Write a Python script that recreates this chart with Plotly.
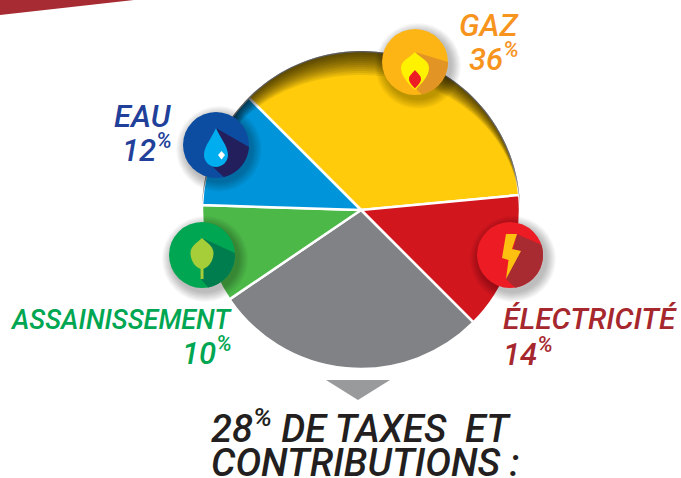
import numpy as np
import plotly.graph_objects as go

W, H = 681, 478
categories = ["Gaz", "Électricité", "Taxes et contributions", "Assainissement", "Eau"]
values = [36, 14, 28, 10, 12]
slice_colors = ["#FFCB0B", "#D1161E", "#808285", "#4CB848", "#0095DA"]
CX, CY, R = 361, 210, 159

FONT = "Roboto"


def poly(pts, close=True):
    return "M" + " L".join(f"{x:.2f},{y:.2f}" for x, y in pts) + (" Z" if close else "")


def circle(cx, cy, r, color, opacity=1):
    return dict(type="circle", xref="x", yref="y", x0=cx - r, x1=cx + r, y0=cy - r, y1=cy + r,
                fillcolor=color, opacity=opacity, line_width=0, layer="above")


def path(d, color, opacity=1):
    return dict(type="path", xref="x", yref="y", path=d, fillcolor=color, opacity=opacity,
                line_width=0, layer="above")


def rel(cx, cy, s):
    out = []
    for cmd in s:
        c, nums = cmd[0], cmd[1:]
        pts = [f"{cx + nums[i]:.2f},{cy + nums[i + 1]:.2f}" for i in range(0, len(nums), 2)]
        out.append(c + " ".join(pts))
    return " ".join(out) + " Z"


def long_shadow(cx, cy, r, start, end, tip, tail, color):
    a0 = np.arctan2(start[1], start[0])
    a1 = np.arctan2(end[1], end[0])
    arc = [(cx + r * np.cos(a), cy + r * np.sin(a)) for a in np.linspace(a0, a1, 30)]
    pts = [(cx + tip[0], cy + tip[1])] + arc + [(cx + tail[0], cy + tail[1])]
    return path(poly(pts), color)


shapes = []
# corner wedge
shapes.append(path("M0,0 L134,0 L0,15 Z", "#A62B32"))
# inner shadow of the pie, thickest at the top and fading out towards the sides
t = np.linspace(np.pi, 2 * np.pi, 80)
for T in np.arange(2.0, 26.0, 2.0):
    f = np.clip(-np.sin(t), 0, 1) ** 1.7
    outer_arc = list(zip(CX + R * np.cos(t), CY + R * np.sin(t)))
    inner_arc = list(zip(CX + (R - T * f) * np.cos(t), CY + (R - T * f) * np.sin(t)))
    shapes.append(path(poly(outer_arc + inner_arc[::-1]), "#000000", 0.08))
# triangle
shapes.append(path("M326,380 L390,380 L358,400 Z", "#999A9C"))

icons = [
    (415, 62, "#FDB515", "#E29524", (32, 0), (7, 33), (0, -10), (2, 28)),
    (216, 145, "#0D4DA1", "#231F5C", (33, 2), (8, 34), (0, -17), (-3, 22)),
    (202, 255, "#00A651", "#007D4F", (33, -2), (6, 32), (0, -17), (-2, 23)),
    (510, 255, "#ED1C24", "#A92B32", (31, -10), (5, 32), (7, -21), (-4, 24)),
]
IR = 33
for cx, cy, col, dark, e0, e1, tip, tail in icons:
    for k in range(10, 0, -1):
        shapes.append(circle(cx + 3, cy + 4, IR + k * 1.0, "#000000", 0.028))
    shapes.append(circle(cx, cy, IR, col))
    shapes.append(long_shadow(cx, cy, IR, e0, e1, tip, tail, dark))

# flame
cx, cy = 415, 62
shapes.append(path(rel(cx, cy, [("M", 0, -10), ("C", -4, -5, -14, -2, -14, 6), ("C", -14, 15, -5, 23, 0, 28),
                                ("C", 5, 23, 14, 15, 14, 6), ("C", 14, -2, 4, -5, 0, -10)]), "#FFF200"))
shapes.append(path(rel(cx, cy, [("M", 0, 8), ("C", -2, 11, -6, 13, -6, 17), ("C", -6, 21, -2, 24, 0, 26.5),
                                ("C", 2, 24, 6, 21, 6, 17), ("C", 6, 13, 2, 11, 0, 8)]), "#ED1C24"))
# drop
cx, cy = 216, 145
shapes.append(path(rel(cx, cy, [("M", 0, -17), ("C", -3, -9, -12, 1, -12, 10), ("C", -12, 17, -6, 22, 0, 22),
                                ("C", 6, 22, 12, 17, 12, 10), ("C", 12, 1, 3, -9, 0, -17)]), "#00AEEF"))
shapes.append(path(rel(cx, cy, [("M", 5.5, 6), ("L", 9, 10), ("L", 5.5, 14.5), ("L", 2, 10)]), "#FFFFFF"))
# leaf
cx, cy = 202, 255
shapes.append(path(rel(cx, cy, [("M", -1.5, 12), ("L", 1.5, 12), ("L", 1.5, 24), ("L", -1.5, 24)]), "#A6CE39"))
shapes.append(path(rel(cx, cy, [("M", 0, -17), ("C", -5, -12, -11.5, -9, -11.5, -2), ("C", -11.5, 7, -5, 14, 0, 14),
                                ("C", 5, 14, 11.5, 7, 11.5, -2), ("C", 11.5, -9, 5, -12, 0, -17)]), "#A6CE39"))
# bolt
cx, cy = 510, 255
shapes.append(path(rel(cx, cy, [("M", -4, -21), ("L", 7, -21), ("L", 2, -6), ("L", 11, -4), ("L", -4, 24),
                                ("L", -1.5, 5), ("L", -8, 3)]), "#FDC010"))


def label(x, y, text, color, anchor, size):
    return dict(x=x, y=y, xref="x", yref="y", text=text, showarrow=False, xanchor=anchor, yanchor="middle",
                font=dict(family=FONT, size=size, color=color, style="italic", weight=500), align=anchor)


annotations = [
    label(521, 25, "GAZ", "#F7941E", "right", 31),
    label(521, 57, "36<sup>%</sup>", "#F7941E", "right", 31),
    label(174, 116, "EAU", "#21409A", "right", 31),
    label(174, 148, "12<sup>%</sup>", "#21409A", "right", 31),
    label(234, 320, "ASSAINISSEMENT", "#00A651", "right", 27),
    label(234, 351, "10<sup>%</sup>", "#00A651", "right", 31),
    label(501, 318, "ÉLECTRICITÉ", "#A6272D", "left", 30),
    label(501, 352, "14<sup>%</sup>", "#A6272D", "left", 31),
    label(361, 426, "28<sup>%</sup> DE TAXES  ET", "#231F20", "center", 38),
    label(365, 462, "CONTRIBUTIONS :", "#231F20", "center", 38.5),
]

fig = go.Figure()
fig.add_trace(go.Pie(
    labels=categories, values=values, sort=False, direction="clockwise", rotation=315,
    marker=dict(colors=slice_colors, line=dict(color="#FFFFFF", width=2.5)),
    textinfo="none", hoverinfo="label+percent", showlegend=False,
    domain=dict(x=[(CX - R) / W, (CX + R) / W], y=[1 - (CY + R) / H, 1 - (CY - R) / H]),
))
fig.update_layout(
    width=W, height=H, margin=dict(l=0, r=0, t=0, b=0), autosize=False,
    paper_bgcolor="#FFFFFF", plot_bgcolor="#FFFFFF", showlegend=False,
    xaxis=dict(range=[0, W], visible=False, fixedrange=True),
    yaxis=dict(range=[H, 0], visible=False, fixedrange=True),
    shapes=shapes, annotations=annotations,
)
fig.write_html("out.html", config=dict(displayModeBar=False),
               post_script="document.body.style.margin='0';document.body.style.overflow='hidden';")
